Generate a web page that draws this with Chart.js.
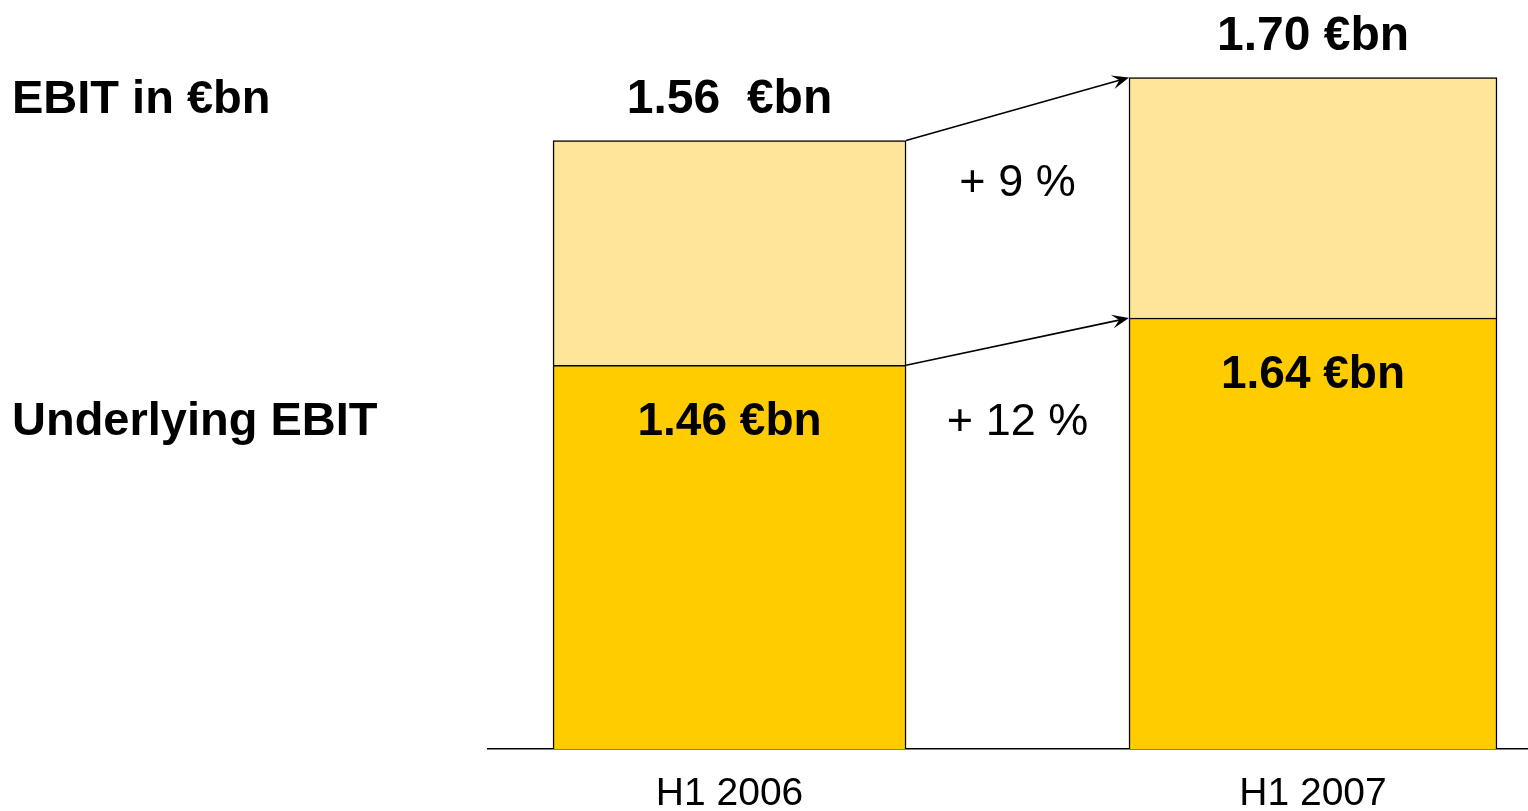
<!DOCTYPE html>
<html>
<head>
<meta charset="utf-8">
<script src="https://cdn.jsdelivr.net/npm/chart.js@4.4.1/dist/chart.umd.min.js"></script>
<style>
    html, body { margin: 0; padding: 0; background: #fff; }
    #wrap { width: 1528px; height: 811px; position: relative; }
</style>
</head>
<body>
<div id="wrap"><canvas id="ebitChart"></canvas></div>
<script>
const categories = ["H1 2006", "H1 2007"];
const underlyingEbit = [1.46, 1.64];
// light segment as drawn (not to scale with the labels)
const ebitAboveUnderlying = [0.855, 0.915];
const ebitLabels = ["1.56  €bn", "1.70 €bn"];
const underlyingLabels = ["1.46 €bn", "1.64 €bn"];
const growthLabels = ["+ 9 %", "+ 12 %"];
const rowLabels = ["EBIT in €bn", "Underlying EBIT"];

(() => {
    const chartElement = document.getElementById("ebitChart");
    if (!chartElement || typeof Chart === "undefined") {
        return;
    }

    const FONT = "'Liberation Sans', Arial, Helvetica, sans-serif";
    const DARK = "#FFCC00";
    const LIGHT = "#FFE599";
    const barThickness = [353, 368];

    const datasets = [];
    categories.forEach((cat, i) => {
        datasets.push({
            label: "Underlying EBIT " + cat,
            data: [{ x: i, y: underlyingEbit[i] }],
            backgroundColor: DARK,
            borderColor: "#000",
            borderWidth: 1.5,
            barThickness: barThickness[i]
        });
        datasets.push({
            label: "EBIT " + cat,
            data: [{ x: i, y: ebitAboveUnderlying[i] }],
            backgroundColor: LIGHT,
            borderColor: "#000",
            borderWidth: 1.5,
            barThickness: barThickness[i]
        });
    });

    function arrow(ctx, x1, y1, x2, y2) {
        const a = Math.atan2(y2 - y1, x2 - x1);
        ctx.beginPath();
        ctx.moveTo(x1, y1);
        ctx.lineTo(x2 - 9 * Math.cos(a), y2 - 9 * Math.sin(a));
        ctx.stroke();
        ctx.save();
        ctx.translate(x2, y2);
        ctx.rotate(a);
        ctx.beginPath();
        ctx.moveTo(0, 0);
        ctx.lineTo(-17, -7);
        ctx.lineTo(-10, 0);
        ctx.lineTo(-17, 7);
        ctx.closePath();
        ctx.fill();
        ctx.restore();
    }

    const annotations = {
        id: "annotations",
        afterDatasetsDraw(chart) {
            const ctx = chart.ctx;
            const under = categories.map((_, i) => chart.getDatasetMeta(2 * i).data[0]);
            const total = categories.map((_, i) => chart.getDatasetMeta(2 * i + 1).data[0]);

            ctx.save();
            ctx.fillStyle = "#000";
            ctx.strokeStyle = "#000";
            ctx.lineWidth = 1.6;

            // arrows between the bars
            arrow(ctx, total[0].x + total[0].width / 2, total[0].y, total[1].x - total[1].width / 2, total[1].y);
            arrow(ctx, under[0].x + under[0].width / 2, under[0].y, under[1].x - under[1].width / 2, under[1].y);

            ctx.textBaseline = "alphabetic";
            ctx.textAlign = "center";
            ctx.font = "bold 48px " + FONT;
            total.forEach((bar, i) => ctx.fillText(ebitLabels[i], bar.x, bar.y - 28));
            ctx.font = "bold 46px " + FONT;
            under.forEach((bar, i) => ctx.fillText(underlyingLabels[i], bar.x, bar.y + 70));

            const gapX = ((total[0].x + total[0].width / 2) + (total[1].x - total[1].width / 2)) / 2;
            ctx.font = "45px " + FONT;
            ctx.fillText(growthLabels[0], gapX, total[0].y + 55);
            ctx.fillText(growthLabels[1], gapX, under[0].y + 70);

            ctx.textAlign = "left";
            ctx.font = "bold 47px " + FONT;
            ctx.fillText(rowLabels[0], 12, total[0].y - 28);
            ctx.fillText(rowLabels[1], 12, under[0].y + 70);
            ctx.restore();
        }
    };

    new Chart(chartElement, {
        type: "bar",
        data: { datasets },
        options: {
            responsive: true,
            maintainAspectRatio: false,
            animation: false,
            layout: { padding: { left: 488, right: 0, top: 0, bottom: -29 } },
            scales: {
                x: {
                    type: "linear",
                    stacked: true,
                    offset: false,
                    min: -0.414,
                    max: 1.3685,
                    z: 1,
                    grid: { display: false, drawTicks: false },
                    border: { display: true, color: "#000", width: 1.5 },
                    afterBuildTicks: (scale) => {
                        scale.ticks = categories.map((_, i) => ({ value: i }));
                    },
                    ticks: {
                        padding: 26,
                        color: "#000",
                        autoSkip: false,
                        maxRotation: 0,
                        font: { family: FONT, size: 39, lineHeight: 1 },
                        callback: (value) => categories[value] ?? ""
                    }
                },
                y: {
                    display: false,
                    stacked: true,
                    min: 0,
                    max: 2.85
                }
            },
            plugins: {
                legend: { display: false },
                tooltip: { enabled: false }
            }
        },
        plugins: [annotations]
    });
})();
</script>
</body>
</html>
